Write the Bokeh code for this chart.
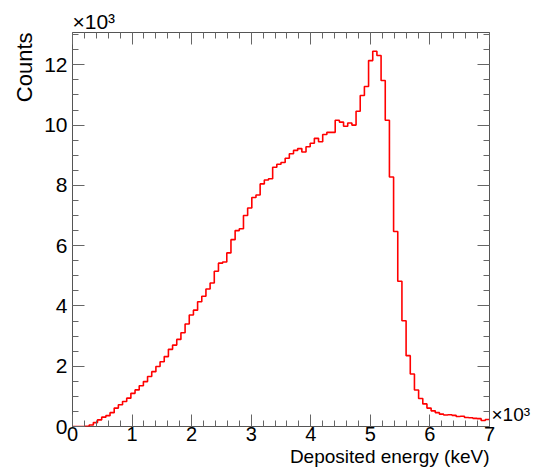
from bokeh.plotting import figure
from bokeh.models import Range1d, FixedTicker, LinearAxis, Title
from bokeh.embed import file_html
from bokeh.resources import INLINE

# ---- data (100 bins over 0-7000 keV) ----
x_min_kev = 0
x_max_kev = 7000
n_bins = 100
counts = [
    0, 0, 0, 10, 50, 130, 220, 310, 360, 460,
    610, 720, 830, 940, 1100, 1215, 1350, 1490, 1660, 1820,
    1990, 2150, 2320, 2560, 2700, 2890, 3110, 3400, 3700, 3860,
    4140, 4320, 4560, 4760, 5150, 5420, 5460, 5760, 6200, 6500,
    6560, 7000, 7250, 7600, 7680, 8050, 8180, 8220, 8600, 8700,
    8760, 8900, 9050, 9160, 9220, 9110, 9280, 9400, 9560, 9450,
    9690, 9760, 9760, 10160, 10100, 9960, 10070, 10000, 10460, 10980,
    11280, 12140, 12450, 12310, 11480, 10160, 8280, 6470, 4820, 3510,
    2350, 1740, 1210, 930, 750, 610, 520, 460, 410, 380,
    390, 370, 330, 340, 300, 290, 270, 260, 200, 230,
]
x_tick_values = [0, 1000, 2000, 3000, 4000, 5000, 6000, 7000]
x_tick_labels = ["0", "1", "2", "3", "4", "5", "6", "7"]
x_minor_step = 200
y_tick_values = [0, 2000, 4000, 6000, 8000, 10000, 12000]
y_tick_labels = ["0", "2", "4", "6", "8", "10", "12"]
y_minor_step = 500
x_title = "Deposited energy (keV)"
y_title = "Counts"
exponent_label = "\u00d710\u00b3"

FONT = "Liberation Sans"
AX = "#666666"

bin_w = (x_max_kev - x_min_kev) / n_bins
edges = [x_min_kev + i * bin_w for i in range(n_bins + 1)]
ys = counts + [counts[-1]]
y_top = 1.05 * max(counts)

x_minor = [x_min_kev + i * x_minor_step for i in range(int((x_max_kev - x_min_kev) / x_minor_step) + 1)]
y_minor = [i * y_minor_step for i in range(int(y_top / y_minor_step) + 1)]

p = figure(
    frame_width=417, frame_height=394,
    x_range=Range1d(x_min_kev, x_max_kev), y_range=Range1d(0, y_top),
    output_backend="svg", toolbar_location=None, title_location=None,
    min_border_left=72, min_border_right=44, min_border_top=32, min_border_bottom=45,
)
p.grid.visible = False
p.outline_line_color = "#555555"
p.outline_line_width = 1
p.background_fill_color = "white"
p.border_fill_color = "white"


def style_axis(ax, ticks, minor, labels, font_size, standoff):
    ax.ticker = FixedTicker(ticks=ticks, minor_ticks=minor)
    ax.major_label_overrides = {v: l for v, l in zip(ticks, labels)}
    ax.axis_line_color = None
    ax.major_tick_line_color = AX
    ax.minor_tick_line_color = AX
    ax.major_tick_in = 12
    ax.major_tick_out = 0
    ax.minor_tick_in = 6
    ax.minor_tick_out = 0
    ax.major_label_text_font = FONT
    ax.major_label_text_color = "black"
    ax.major_label_text_font_size = font_size
    ax.major_label_standoff = standoff


style_axis(p.xaxis[0], x_tick_values, x_minor, x_tick_labels, "20px", 0)
style_axis(p.yaxis[0], y_tick_values, y_minor, y_tick_labels, "21px", 5)

# mirrored ticks on the top and right sides of the frame
top_ax = LinearAxis()
style_axis(top_ax, x_tick_values, x_minor, [""] * len(x_tick_values), "0px", 0)
p.add_layout(top_ax, "above")
right_ax = LinearAxis()
style_axis(right_ax, y_tick_values, y_minor, [""] * len(y_tick_values), "0px", 0)
p.add_layout(right_ax, "right")

# x10^3 multiplier at the right end of the x axis
exp_pos = 387
exp_ax = LinearAxis(ticker=FixedTicker(ticks=[exp_pos], minor_ticks=[]),
                    major_label_overrides={exp_pos: exponent_label})
exp_ax.axis_line_color = None
exp_ax.major_tick_line_color = None
exp_ax.minor_tick_line_color = None
exp_ax.major_tick_out = 0
exp_ax.major_tick_in = 0
exp_ax.major_label_standoff = 2
exp_ax.major_label_text_font = FONT
exp_ax.major_label_text_font_size = "19px"
exp_ax.major_label_text_color = "black"
p.add_layout(exp_ax, "right")

# x10^3 multiplier at the top of the y axis
p.add_layout(Title(text=exponent_label, align="left", standoff=0,
                   text_font=FONT, text_font_size="21px", text_font_style="normal",
                   text_color="black"), "above")
# axis titles (ROOT style: at the far end of each axis)
p.add_layout(Title(text=x_title, align="right", standoff=0,
                   text_font=FONT, text_font_size="19px", text_font_style="normal",
                   text_color="black"), "below")
p.add_layout(Title(text=y_title, align="right", standoff=10,
                   text_font=FONT, text_font_size="22px", text_font_style="normal",
                   text_color="black"), "left")

p.step(edges, ys, mode="after", line_color="#ff0000", line_width=1.6)

open("out.html", "w").write(file_html(p, INLINE))
